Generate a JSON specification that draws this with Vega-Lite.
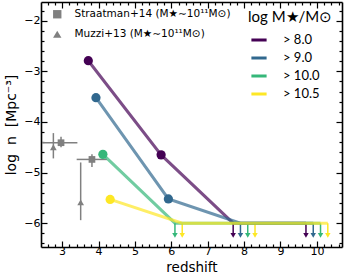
{
  "$schema": "https://vega.github.io/schema/vega-lite/v6.json",
  "width": 301,
  "height": 245,
  "autosize": "none",
  "padding": {"left": 41, "top": 2, "right": 8, "bottom": 30},
  "background": "white",
  "config": {
    "view": {"stroke": null},
    "axis": {"grid": false, "domainColor": "black", "domainWidth": 1.6, "tickColor": "black", "tickWidth": 1.2, "labelColor": "black", "titleColor": "black", "labelFont": "DejaVu Sans", "titleFont": "DejaVu Sans", "labelFontSize": 11, "titleFontSize": 14, "titleFontWeight": "normal", "labelFlush": false, "labelOverlap": false}
  },
  "datasets": {
    "series": [
      {"z": 3.72, "n": -2.79, "mass": "> 8.0", "det": true},
      {"z": 5.72, "n": -4.65, "mass": "> 8.0", "det": true},
      {"z": 7.7, "n": -6.0, "mass": "> 8.0", "det": false},
      {"z": 9.7, "n": -6.0, "mass": "> 8.0", "det": false},
      {"z": 3.93, "n": -3.52, "mass": "> 9.0", "det": true},
      {"z": 5.92, "n": -5.52, "mass": "> 9.0", "det": true},
      {"z": 7.9, "n": -6.0, "mass": "> 9.0", "det": false},
      {"z": 9.9, "n": -6.0, "mass": "> 9.0", "det": false},
      {"z": 4.12, "n": -4.64, "mass": "> 10.0", "det": true},
      {"z": 6.1, "n": -6.0, "mass": "> 10.0", "det": false},
      {"z": 8.1, "n": -6.0, "mass": "> 10.0", "det": false},
      {"z": 10.1, "n": -6.0, "mass": "> 10.0", "det": false},
      {"z": 4.32, "n": -5.53, "mass": "> 10.5", "det": true},
      {"z": 6.3, "n": -6.0, "mass": "> 10.5", "det": false},
      {"z": 8.3, "n": -6.0, "mass": "> 10.5", "det": false},
      {"z": 10.3, "n": -6.0, "mass": "> 10.5", "det": false}
    ],
    "obs": [
      {"survey": "Straatman+14 (M★∼10¹¹M⊙)", "z": 2.97, "n": -4.41, "zlo": 2.45, "zhi": 3.42, "nlo": -4.5, "nhi": -4.29},
      {"survey": "Straatman+14 (M★∼10¹¹M⊙)", "z": 3.82, "n": -4.74, "zlo": 3.4, "zhi": 4.23, "nlo": -4.89, "nhi": -4.64},
      {"survey": "Muzzi+13 (M★∼10¹¹M⊙)", "z": 2.76, "n": -4.5, "zlo": 2.76, "zhi": 2.76, "nlo": -4.72, "nhi": -4.22},
      {"survey": "Muzzi+13 (M★∼10¹¹M⊙)", "z": 3.51, "n": -5.59, "zlo": 3.51, "zhi": 3.51, "nlo": -5.94, "nhi": -4.8}
    ]
  },
  "layer": [
    {
      "data": {"name": "obs"},
      "mark": {"type": "rule", "color": "#808080", "strokeWidth": 1.5},
      "encoding": {
        "x": {"field": "zlo", "type": "quantitative", "scale": {"domain": [2.42, 10.69], "nice": false, "zero": false},
          "axis": {"orient": "bottom", "title": "redshift", "titlePadding": 1, "titleFontSize": 13.5,
            "values": [2.6,2.8,3,3.2,3.4,3.6,3.8,4,4.2,4.4,4.6,4.8,5,5.2,5.4,5.6,5.8,6,6.2,6.4,6.6,6.8,7,7.2,7.4,7.6,7.8,8,8.2,8.4,8.6,8.8,9,9.2,9.4,9.6,9.8,10,10.2,10.4,10.6],
            "labelExpr": "abs(datum.value - round(datum.value)) < 0.01 ? '' + round(datum.value) : ''",
            "tickSize": {"condition": {"test": "abs(datum.value - round(datum.value)) < 0.01", "value": -6}, "value": -3},
            "labelPadding": 4}},
        "x2": {"field": "zhi"},
        "y": {"field": "n", "type": "quantitative", "scale": {"domain": [-6.47, -1.63], "nice": false, "zero": false},
          "axis": {"orient": "left", "title": "log\u00a0\u00a0n\u00a0\u00a0[Mpc⁻³]", "titlePadding": 5,
            "values": [-6.4,-6.2,-6,-5.8,-5.6,-5.4,-5.2,-5,-4.8,-4.6,-4.4,-4.2,-4,-3.8,-3.6,-3.4,-3.2,-3,-2.8,-2.6,-2.4,-2.2,-2,-1.8],
            "labelExpr": "abs(datum.value - round(datum.value)) < 0.01 ? '−' + abs(round(datum.value)) : ''",
            "tickSize": {"condition": {"test": "abs(datum.value - round(datum.value)) < 0.01", "value": -6}, "value": -3},
            "labelPadding": 7}}
      }
    },
    {
      "data": {"name": "obs"},
      "mark": {"type": "rule", "color": "#808080", "strokeWidth": 1.5},
      "encoding": {
        "x": {"field": "z", "type": "quantitative",
          "axis": {"orient": "top", "title": null, "labels": false,
            "values": [2.6,2.8,3,3.2,3.4,3.6,3.8,4,4.2,4.4,4.6,4.8,5,5.2,5.4,5.6,5.8,6,6.2,6.4,6.6,6.8,7,7.2,7.4,7.6,7.8,8,8.2,8.4,8.6,8.8,9,9.2,9.4,9.6,9.8,10,10.2,10.4,10.6],
            "tickSize": {"condition": {"test": "abs(datum.value - round(datum.value)) < 0.01", "value": -6}, "value": -3}}},
        "y": {"field": "nlo", "type": "quantitative",
          "axis": {"orient": "right", "title": null, "labels": false,
            "values": [-6.4,-6.2,-6,-5.8,-5.6,-5.4,-5.2,-5,-4.8,-4.6,-4.4,-4.2,-4,-3.8,-3.6,-3.4,-3.2,-3,-2.8,-2.6,-2.4,-2.2,-2,-1.8],
            "tickSize": {"condition": {"test": "abs(datum.value - round(datum.value)) < 0.01", "value": -6}, "value": -3}}},
        "y2": {"field": "nhi"}
      }
    },
    {
      "data": {"name": "obs"},
      "mark": {"type": "point", "filled": true, "opacity": 1, "color": "#808080", "size": 45},
      "encoding": {
        "x": {"field": "z", "type": "quantitative", "axis": null},
        "y": {"field": "n", "type": "quantitative", "axis": null},
        "shape": {"field": "survey", "type": "nominal",
          "scale": {"domain": ["Straatman+14 (M★∼10¹¹M⊙)", "Muzzi+13 (M★∼10¹¹M⊙)"], "range": ["square", "triangle-up"]},
          "legend": {"orient": "none", "legendX": 11, "legendY": 7, "title": null, "padding": 0, "labelFont": "DejaVu Sans", "labelFontSize": 10.5, "labelColor": "black", "symbolSize": 70, "symbolFillColor": "#808080", "symbolStrokeColor": "#808080", "rowPadding": 5, "labelOffset": 12}}
      }
    },
    {
      "data": {"name": "series"},
      "transform": [{"filter": "!datum.det"}],
      "mark": {"type": "rule", "strokeWidth": 1.5},
      "encoding": {
        "x": {"field": "z", "type": "quantitative", "axis": null},
        "y": {"field": "n", "type": "quantitative", "axis": null},
        "y2": {"datum": -6.2},
        "color": {"field": "mass", "type": "nominal"}
      }
    },
    {
      "data": {"name": "series"},
      "transform": [{"filter": "!datum.det"}],
      "mark": {"type": "point", "shape": "triangle-down", "filled": true, "opacity": 1, "size": 30},
      "encoding": {
        "x": {"field": "z", "type": "quantitative", "axis": null},
        "y": {"datum": -6.24, "type": "quantitative", "axis": null},
        "color": {"field": "mass", "type": "nominal"}
      }
    },
    {
      "data": {"name": "series"},
      "mark": {"type": "line", "strokeWidth": 3, "opacity": 0.7},
      "encoding": {
        "x": {"field": "z", "type": "quantitative", "axis": null},
        "y": {"field": "n", "type": "quantitative", "axis": null},
        "color": {"field": "mass", "type": "nominal",
          "scale": {"domain": ["> 8.0", "> 9.0", "> 10.0", "> 10.5"], "range": ["#440154", "#31688e", "#35b779", "#fde725"]},
          "legend": {"orient": "none", "legendX": 207, "legendY": 8, "title": "log M★/M⊙", "padding": 0, "titleFont": "Lato", "titleFontSize": 15, "titleFontWeight": "normal", "titleColor": "black", "titlePadding": 4, "labelFont": "Lato", "labelFontSize": 13, "labelColor": "black", "symbolType": "M-0.8,0H0.8", "symbolStrokeWidth": 3, "symbolSize": 361, "symbolOpacity": 0.7, "rowPadding": 0, "labelOffset": 13}}
      }
    },
    {
      "data": {"name": "series"},
      "transform": [{"filter": "datum.det"}],
      "mark": {"type": "circle", "opacity": 1, "size": 85},
      "encoding": {
        "x": {"field": "z", "type": "quantitative", "axis": null},
        "y": {"field": "n", "type": "quantitative", "axis": null},
        "color": {"field": "mass", "type": "nominal"}
      }
    }
  ],
  "resolve": {"axis": {"x": "independent", "y": "independent"}}
}
